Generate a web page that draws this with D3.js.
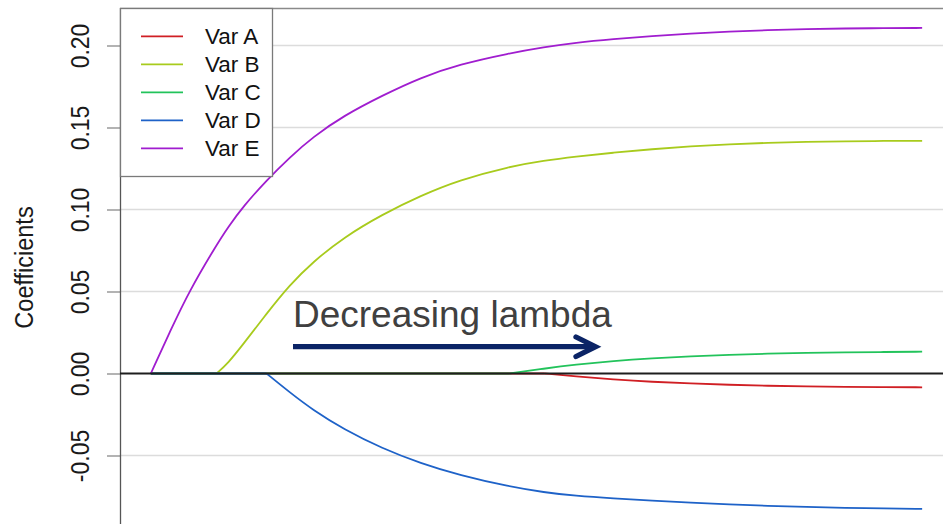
<!DOCTYPE html>
<html>
<head>
<meta charset="utf-8">
<script src="https://cdn.jsdelivr.net/npm/d3@7"></script>
<style>
  html, body { margin: 0; padding: 0; background: #fff; }
  svg { display: block; font-family: "Liberation Sans", Arial, Helvetica, sans-serif; }
</style>
</head>
<body>
<svg id="chart" width="943" height="524"></svg>
<script>
// ---- data ----
const steps = [0, 2.5, 5, 8.5, 10, 12, 15, 18, 21, 25, 30, 35, 40, 46.5, 51, 55, 60, 65, 70, 75, 80, 85, 90, 95, 100];
const varA = [0, 0, 0, 0, 0, 0, 0, 0, 0, 0, 0, 0, 0, 0, 0, -0.0017, -0.0036, -0.0051, -0.0061, -0.0069, -0.0075, -0.0079, -0.0082, -0.0083, -0.0084];
const varB = [0, 0, 0, 0, 0.0062, 0.0180, 0.0365, 0.0540, 0.0680, 0.0830, 0.0970, 0.1085, 0.1180, 0.1262, 0.1298, 0.1322, 0.1347, 0.1368, 0.1385, 0.1398, 0.1407, 0.1413, 0.1416, 0.1418, 0.1419];
const varC = [0, 0, 0, 0, 0, 0, 0, 0, 0, 0, 0, 0, 0, 0, 0.0030, 0.0054, 0.0077, 0.0093, 0.0105, 0.0114, 0.0121, 0.0126, 0.0129, 0.0131, 0.0133];
const varD = [0, 0, 0, 0, 0, 0, 0, -0.0115, -0.0222, -0.0340, -0.0457, -0.0548, -0.0620, -0.0690, -0.0725, -0.0745, -0.0762, -0.0776, -0.0788, -0.0798, -0.0807, -0.0814, -0.0819, -0.0823, -0.0826];
const varE = [0, 0.0258, 0.0505, 0.0783, 0.0892, 0.1020, 0.1178, 0.1318, 0.1442, 0.1572, 0.1695, 0.1805, 0.1885, 0.1953, 0.1990, 0.2017, 0.2040, 0.2058, 0.2073, 0.2085, 0.2094, 0.2100, 0.2104, 0.2106, 0.2107];
const seriesNames = ["Var A", "Var B", "Var C", "Var D", "Var E"];
const seriesColors = ["#d01f24", "#a8cb1d", "#22c35b", "#1e62c8", "#a01dcf"];
const yTicks = [-0.05, 0, 0.05, 0.10, 0.15, 0.20];
const yTitle = "Coefficients";
const annotation = "Decreasing lambda";

const seriesValues = [varA, varB, varC, varD, varE];

// ---- layout ----
const W = 943, H = 524;
const plotLeft = 120, plotTop = 8, plotRight = 953, plotBottom = 527;

const svg = d3.select("#chart");

const x = d3.scaleLinear().domain([-4, 104]).range([plotLeft, plotRight]);
const y = d3.scaleLinear().domain([0, 0.2]).range([373.5, 45.5]);

svg.append("defs").append("clipPath").attr("id", "plotclip")
  .append("rect").attr("x", plotLeft).attr("y", plotTop)
  .attr("width", plotRight - plotLeft).attr("height", plotBottom - plotTop);

// grid lines
svg.append("g").selectAll("line").data(yTicks.filter(d => d !== 0)).join("line")
  .attr("x1", plotLeft).attr("x2", W)
  .attr("y1", d => y(d)).attr("y2", d => y(d))
  .attr("stroke", "#dcdcdc").attr("stroke-width", 1.5);

// top border
svg.append("line").attr("x1", plotLeft).attr("x2", W)
  .attr("y1", plotTop + 0.5).attr("y2", plotTop + 0.5)
  .attr("stroke", "#8a8a8a").attr("stroke-width", 1.3);

// y axis
const yAxis = d3.axisLeft(y).tickValues(yTicks).tickSize(13).tickPadding(0)
  .tickFormat(d => d.toFixed(2));
const gAxis = svg.append("g").attr("transform", `translate(${plotLeft},0)`).call(yAxis);
gAxis.select(".domain").remove();
gAxis.selectAll(".tick line").attr("stroke", "#8a8a8a").attr("stroke-width", 1.3);
gAxis.selectAll(".tick text")
  .attr("x", 0).attr("y", -28).attr("dy", null)
  .attr("transform", "rotate(-90) scale(1,1.1)")
  .attr("text-anchor", "middle")
  .attr("fill", "#1a1a1a")
  .style("font-size", "23px")
  .style("font-family", "\"Liberation Sans\", Arial, sans-serif");

svg.append("line").attr("x1", plotLeft + 0.5).attr("x2", plotLeft + 0.5)
  .attr("y1", plotTop).attr("y2", H)
  .attr("stroke", "#555").attr("stroke-width", 1.3);

// y title
svg.append("text")
  .attr("transform", `translate(33,267.5) rotate(-90) scale(1,1.1)`)
  .attr("text-anchor", "middle")
  .attr("fill", "#1a1a1a")
  .style("font-size", "23.5px")
  .text(yTitle);

// curves: flat (zero) part drawn straight, active part as a smooth curve
const smooth = d3.line().x(d => x(d[0])).y(d => y(d[1])).curve(d3.curveBasis);
const straight = d3.line().x(d => x(d[0])).y(d => y(d[1]));
const gLines = svg.append("g").attr("clip-path", "url(#plotclip)");
seriesValues.forEach((vals, i) => {
  const pts = vals.map((v, j) => [steps[j], v]);
  const first = vals.findIndex(v => v !== 0);
  const start = Math.max(0, first - 1);
  if (start > 0) {
    gLines.append("path")
      .attr("d", straight(pts.slice(0, start + 1)))
      .attr("fill", "none").attr("stroke", seriesColors[i]).attr("stroke-width", 1.8);
  }
  gLines.append("path")
    .attr("d", smooth(pts.slice(start)))
    .attr("fill", "none").attr("stroke", seriesColors[i]).attr("stroke-width", 1.8);
});

// zero line
svg.append("line").attr("x1", plotLeft).attr("x2", W)
  .attr("y1", y(0)).attr("y2", y(0))
  .attr("stroke", "#1e1e1e").attr("stroke-width", 2.2);

// legend
const lg = svg.append("g");
lg.append("rect").attr("x", plotLeft + 0.5).attr("y", plotTop + 0.5)
  .attr("width", 152).attr("height", 168)
  .attr("fill", "#fff").attr("stroke", "#7a7a7a").attr("stroke-width", 1.3);
const items = lg.selectAll("g.item").data(seriesNames).join("g")
  .attr("class", "item")
  .attr("transform", (d, i) => `translate(0,${36.3 + i * 28})`);
items.append("line").attr("x1", 141).attr("x2", 183).attr("y1", 0).attr("y2", 0)
  .attr("stroke", (d, i) => seriesColors[i]).attr("stroke-width", 1.8);
items.append("text").attr("x", 205).attr("y", 8)
  .attr("fill", "#111").style("font-size", "22.5px").text(d => d);

// annotation
svg.append("text").attr("x", 293).attr("y", 327)
  .attr("fill", "#404040").style("font-size", "37px").text(annotation);
svg.append("line").attr("x1", 293).attr("x2", 593).attr("y1", 346.7).attr("y2", 346.7)
  .attr("stroke", "#0b2466").attr("stroke-width", 5.3);
svg.append("path")
  .attr("d", "M576,337 L595.5,346.7 L576,356.5")
  .attr("fill", "none").attr("stroke", "#0b2466").attr("stroke-width", 5.3)
  .attr("stroke-linecap", "round").attr("stroke-linejoin", "miter");
</script>
</body>
</html>
